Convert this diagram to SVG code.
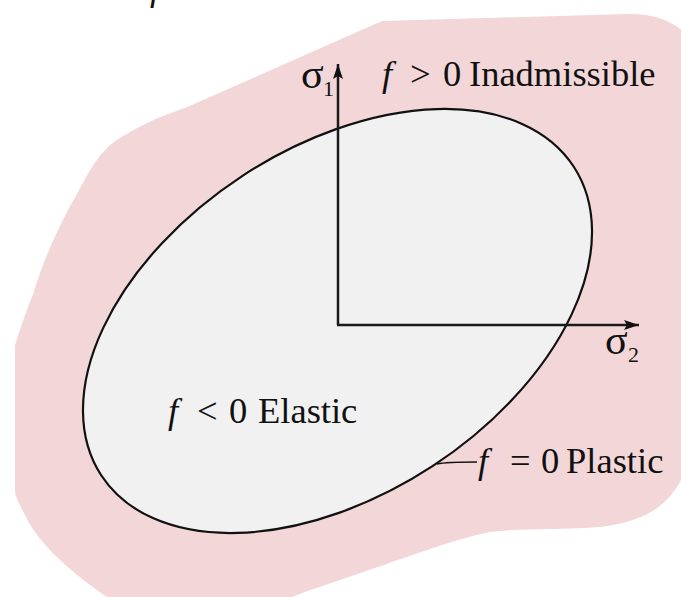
<svg xmlns="http://www.w3.org/2000/svg" width="681" height="597" viewBox="0 0 681 597">
  <style>
    .lbl { font-family: "Liberation Serif", "Times New Roman", serif; font-size: 36.5px; fill: #111; }
    .it { font-style: italic; }
    .sig { font-family: "Liberation Serif", "Times New Roman", serif; font-size: 42px; fill: #111; }
    .sub { font-family: "Liberation Serif", "Times New Roman", serif; font-size: 22px; fill: #111; }
    .axis { stroke: #1a1a1a; stroke-width: 2.5; fill: none; }
  </style>
  <defs>
    <marker id="arr" markerUnits="userSpaceOnUse" markerWidth="16" markerHeight="10" refX="15" refY="5" orient="auto">
      <path d="M0,0 L15,5 L0,10 L3,5 Z" fill="#111"/>
    </marker>
  </defs>
  <rect width="681" height="597" fill="#ffffff"/>

  <g id="top-cut">
    <text class="lbl" x="150" y="0"><tspan class="it">f</tspan></text>
  </g>

  <g id="inadmissible-region">
    <path d="M382,21 L626,14 C655,13 676,22 690,38 L690,478 L681,480 C668,505 645,522 600,527 C560,530 520,528 490,532 C450,540 400,560 340,580 C310,590 290,597 275,605 L118,605 C90,585 45,555 26,517 C17,500 15,495 15,490 L15,345 C20,330 28,305 33,295 C40,270 55,232 78,192 C90,170 100,150 120,138 C135,128 160,116 185,108 L382,21 Z" fill="#f3d7d8"/>
  </g>

  <g id="elastic-region">
    <ellipse cx="337.5" cy="321" rx="282.2" ry="173.5" transform="rotate(-33.2 337.5 321)" fill="#f1f1f1" stroke="#111" stroke-width="2.2"/>
  </g>

  <g id="connectors">
    <line class="axis" x1="338" y1="325" x2="338" y2="64" marker-end="url(#arr)"/>
    <line class="axis" x1="337" y1="325" x2="639" y2="325" marker-end="url(#arr)"/>
    <path d="M437,464 C446,462 455,462 477,462" fill="none" stroke="#111" stroke-width="1.6"/>
  </g>

  <g id="sigma1">
    <text class="sig" x="301" y="88">σ</text>
    <text class="sub" x="323" y="96">1</text>
  </g>
  <g id="sigma2">
    <text class="sig" x="605" y="354">σ</text>
    <text class="sub" x="628" y="362">2</text>
  </g>

  <g id="label-inadmissible">
    <text class="lbl" y="86"><tspan class="it" x="382">f</tspan><tspan x="410">&gt;</tspan><tspan x="443">0</tspan><tspan x="469">Inadmissible</tspan></text>
  </g>
  <g id="label-elastic">
    <text class="lbl" y="423"><tspan class="it" x="168">f</tspan><tspan x="197">&lt;</tspan><tspan x="229">0</tspan><tspan x="258">Elastic</tspan></text>
  </g>
  <g id="label-plastic">
    <text class="lbl" y="473"><tspan class="it" x="478">f</tspan><tspan x="510">=</tspan><tspan x="541">0</tspan><tspan x="566">Plastic</tspan></text>
  </g>
</svg>
